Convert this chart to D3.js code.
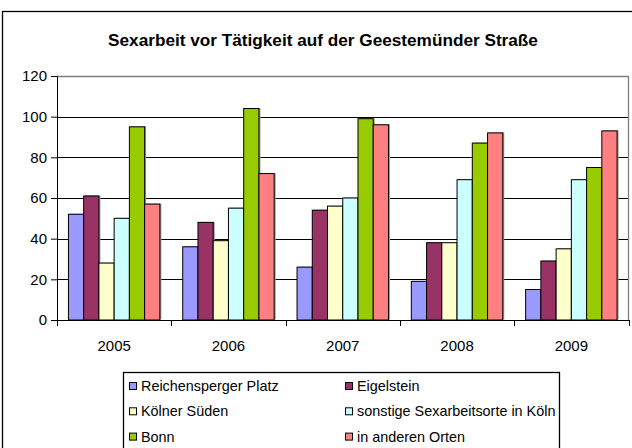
<!DOCTYPE html>
<html>
<head>
<meta charset="utf-8">
<script src="https://cdn.jsdelivr.net/npm/d3@7"></script>
<style>
  body { margin: 0; background: #fff; }
  svg { display: block; font-family: "Liberation Sans", Arial, sans-serif; }
</style>
</head>
<body>
<svg id="chart"></svg>
<script>
// chart data
var years = ["2005", "2006", "2007", "2008", "2009"];
var seriesNames = ["Reichensperger Platz", "Eigelstein", "Kölner Süden",
                   "sonstige Sexarbeitsorte in Köln", "Bonn", "in anderen Orten"];
var reichensperger = [52, 36, 26, 19, 15];
var eigelstein = [61, 48, 54, 38, 29];
var koelnerSueden = [28, 39, 56, 38, 35];
var sonstige = [50, 55, 60, 69, 69];
var bonn = [95, 104, 99, 87, 75];
var andereOrte = [57, 72, 96, 92, 93];
var yTicks = [0, 20, 40, 60, 80, 100, 120];
var colors = ["#9999ff", "#993366", "#ffffcc", "#ccffff", "#99cc00", "#ff8080"];

var allSeries = [reichensperger, eigelstein, koelnerSueden, sonstige, bonn, andereOrte];

var width = 632,
    height = 448;

var svg = d3.select("#chart")
    .attr("width", width)
    .attr("height", height);

// outer chart border
svg.append("rect")
    .attr("x", 2.5).attr("y", 11.5)
    .attr("width", 640).attr("height", 450)
    .attr("fill", "#fff").attr("stroke", "#000").attr("stroke-width", 1.3);

// title
svg.append("text")
    .attr("x", 323).attr("y", 46)
    .attr("text-anchor", "middle")
    .attr("font-size", 17.2).attr("font-weight", "bold")
    .text("Sexarbeit vor Tätigkeit auf der Geestemünder Straße");

//plot area
var plot = { left: 57, right: 628.5, top: 76, bottom: 320 };

var x = d3.scaleBand()
    .domain(years)
    .range([plot.left, plot.right]);

var bw = x.bandwidth();
var gap = bw / 7.5 * 1.5;
var xs = d3.scaleBand()
    .domain(d3.range(allSeries.length))
    .range([gap / 2, bw - gap / 2]);

var y = d3.scaleLinear()
    .domain([0, 120])
    .range([plot.bottom, plot.top]);

// gridlines
svg.append("g")
    .selectAll("line")
    .data(yTicks.filter(function (d) { return d > 0 && d < 120; }))
    .enter().append("line")
    .attr("x1", plot.left).attr("x2", plot.right)
    .attr("y1", function (d) { return Math.round(y(d)) + 0.5; })
    .attr("y2", function (d) { return Math.round(y(d)) + 0.5; })
    .attr("stroke", "#000").attr("stroke-width", 1);

// plot border (top and right) in grey
svg.append("path")
    .attr("d", "M" + plot.left + "," + (plot.top + 0.5) + "H" + plot.right + "V" + plot.bottom)
    .attr("fill", "none").attr("stroke", "#808080").attr("stroke-width", 1.3);

// bars
var groups = svg.append("g")
    .selectAll("g")
    .data(allSeries)
    .enter().append("g")
    .attr("fill", function (d, i) { return colors[i]; });

var cells = groups.selectAll("g")
    .data(function (d, i) { return d.map(function (v, j) { return { s: i, year: years[j], value: v }; }); })
    .enter().append("g");

// soft shadow to the right of each bar
cells.append("rect")
    .attr("x", function (d) { return x(d.year) + xs(d.s) + 1.5; })
    .attr("y", function (d) { return y(d.value) - 0.5; })
    .attr("width", xs.bandwidth())
    .attr("height", function (d) { return plot.bottom - y(d.value); })
    .attr("fill", "#9a9a9a");

cells.append("rect")
    .attr("x", function (d) { return x(d.year) + xs(d.s); })
    .attr("y", function (d) { return y(d.value); })
    .attr("width", xs.bandwidth())
    .attr("height", function (d) { return plot.bottom - y(d.value); })
    .attr("stroke", "#000").attr("stroke-width", 1);

// y axis
var yAxis = d3.axisLeft(y)
    .tickValues(yTicks)
    .tickSize(6)
    .tickPadding(4);

var gy = svg.append("g")
    .attr("transform", "translate(" + plot.left + ",0)")
    .call(yAxis);
gy.select(".domain").attr("stroke", "#000");
gy.selectAll("text").attr("font-size", 15).attr("fill", "#000")
    .attr("font-family", "Liberation Sans, Arial, sans-serif");

// x axis
var xAxis = d3.axisBottom(x)
    .tickSize(0)
    .tickPadding(20);

var gx = svg.append("g")
    .attr("transform", "translate(0," + plot.bottom + ")")
    .call(xAxis);
gx.select(".domain").attr("stroke", "#000");
gx.selectAll("text").attr("font-size", 15).attr("fill", "#000")
    .attr("font-family", "Liberation Sans, Arial, sans-serif");

// category tick marks between groups
gx.selectAll(".sep")
    .data(years.concat(["end"]))
    .enter().append("line")
    .attr("x1", function (d, i) { return Math.round(plot.left + i * bw) + 0.5; })
    .attr("x2", function (d, i) { return Math.round(plot.left + i * bw) + 0.5; })
    .attr("y1", 0).attr("y2", 6)
    .attr("stroke", "#000");

// legend
var legend = svg.append("g").attr("transform", "translate(123,372)");
legend.append("rect")
    .attr("x", 0.5).attr("y", 0.5)
    .attr("width", 436).attr("height", 90)
    .attr("fill", "#fff").attr("stroke", "#000").attr("stroke-width", 1.3);

var items = legend.selectAll(".item")
    .data(seriesNames)
    .enter().append("g")
    .attr("transform", function (d, i) {
        return "translate(" + (i % 2 === 0 ? 6 : 222) + "," + (14 + Math.floor(i / 2) * 25.3) + ")";
    });

items.append("rect")
    .attr("x", 0.5).attr("y", -3.5)
    .attr("width", 7).attr("height", 7)
    .attr("fill", function (d, i) { return colors[i]; })
    .attr("stroke", "#000");

items.append("text")
    .attr("x", 12).attr("y", 5)
    .attr("font-size", 14.4)
    .text(function (d) { return d; });
</script>
</body>
</html>
